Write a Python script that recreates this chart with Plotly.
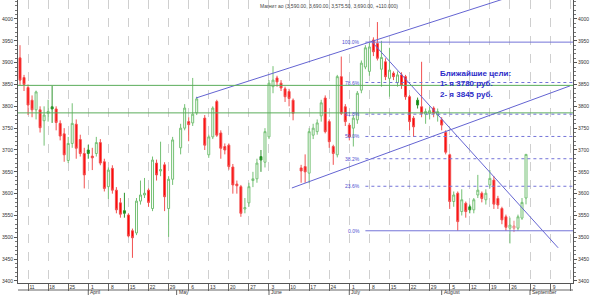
import numpy as np
import plotly.graph_objects as go

# ---------------- data ----------------
TICKER = "Магнит ао"
FIRST_DAY, LAST_DAY = "2019-03-07", "2019-08-30"
HOLIDAYS = ["2019-05-01", "2019-05-09", "2019-06-12"]

OPEN = [3911, 3866, 3843, 3814, 3792, 3792, 3767, 3784, 3799, 3794, 3761, 3737, 3676, 3715, 3759, 3724,
        3692, 3700, 3686, 3692, 3717, 3673, 3616, 3658, 3608, 3579, 3561, 3551, 3515, 3510, 3583, 3597,
        3608, 3566, 3670, 3652, 3666, 3566, 3633, 3705, 3750, 3765, 3762, 3785, 3773, 3689, 3730, 3811,
        3739, 3708, 3711, 3661, 3622, 3616, 3565, 3579, 3630, 3634, 3685, 3672, 3730, 3845, 3865, 3853,
        3840, 3834, 3814, 3659, 3662, 3647, 3734, 3742, 3778, 3819, 3765, 3708, 3689, 3868, 3799, 3757,
        3750, 3769, 3837, 3890, 3880, 3952, 3944, 3885, 3902, 3864, 3876, 3854, 3872, 3868, 3822, 3773,
        3814, 3799, 3782, 3784, 3796, 3780, 3769, 3740, 3689, 3582, 3601, 3559, 3578, 3570, 3563, 3597,
        3601, 3586, 3620, 3631, 3589, 3566, 3547, 3521, 3521, 3521, 3544, 3590]
HIGH = [3940, 3872, 3850, 3825, 3836, 3800, 3800, 3815, 3847, 3800, 3768, 3750, 3730, 3807, 3770, 3735,
        3705, 3712, 3705, 3730, 3725, 3680, 3660, 3665, 3615, 3590, 3602, 3555, 3520, 3590, 3630, 3636,
        3612, 3685, 3678, 3719, 3672, 3640, 3730, 3760, 3805, 3775, 3865, 3822, 3780, 3735, 3800, 3815,
        3745, 3715, 3715, 3668, 3630, 3620, 3590, 3625, 3650, 3680, 3700, 3750, 3860, 3892, 3870, 3860,
        3845, 3840, 3818, 3666, 3690, 3750, 3760, 3770, 3815, 3825, 3770, 3712, 3872, 3914, 3805, 3762,
        3780, 3835, 3905, 3940, 3945, 3958, 3993, 3950, 3910, 3934, 3880, 3880, 3878, 3872, 3826, 3778,
        3820, 3902, 3795, 3800, 3800, 3795, 3775, 3745, 3692, 3605, 3605, 3610, 3582, 3575, 3590, 3643,
        3605, 3610, 3654, 3640, 3595, 3570, 3552, 3545, 3538, 3552, 3590, 3690]
LOW = [3849, 3835, 3780, 3775, 3770, 3740, 3710, 3765, 3762, 3745, 3722, 3673, 3670, 3705, 3680, 3685,
       3612, 3680, 3654, 3685, 3665, 3605, 3588, 3600, 3555, 3545, 3545, 3500, 3453, 3505, 3575, 3590,
       3570, 3560, 3630, 3640, 3560, 3501, 3620, 3690, 3745, 3720, 3755, 3780, 3700, 3682, 3725, 3730,
       3680, 3690, 3655, 3600, 3600, 3547, 3555, 3570, 3615, 3625, 3650, 3660, 3725, 3830, 3845, 3835,
       3810, 3800, 3768, 3625, 3625, 3624, 3725, 3735, 3765, 3738, 3705, 3666, 3683, 3780, 3755, 3722,
       3708, 3760, 3830, 3885, 3870, 3915, 3905, 3845, 3860, 3822, 3860, 3845, 3840, 3815, 3745, 3730,
       3795, 3775, 3760, 3770, 3775, 3765, 3745, 3690, 3565, 3570, 3515, 3550, 3545, 3555, 3555, 3590,
       3580, 3575, 3612, 3565, 3565, 3530, 3515, 3486, 3512, 3515, 3540, 3575.5]
CLOSE = [3860, 3850, 3803, 3792, 3833, 3751, 3780, 3788, 3794, 3763, 3732, 3689, 3715, 3761, 3704, 3692,
         3643, 3692, 3682, 3717, 3670, 3612, 3654, 3608, 3563, 3553, 3555, 3503, 3499, 3583, 3597, 3601,
         3580, 3677, 3643, 3655, 3593, 3633, 3723, 3750, 3796, 3758, 3782, 3817, 3711, 3730, 3796, 3734,
         3704, 3700, 3662, 3620, 3618, 3555, 3568, 3616, 3634, 3670, 3677, 3742, 3853, 3860, 3856, 3842,
         3822, 3818, 3784, 3652, 3650, 3742, 3750, 3762, 3808, 3742, 3719, 3692, 3868, 3784, 3765, 3730,
         3773, 3830, 3899, 3934, 3936, 3925, 3910, 3912, 3868, 3883, 3868, 3872, 3849, 3822, 3765, 3753,
         3803, 3784, 3788, 3790, 3784, 3788, 3757, 3695, 3582, 3597, 3536, 3586, 3559, 3563, 3586, 3608,
         3589, 3601, 3635, 3576, 3574, 3540, 3523, 3528, 3526, 3547, 3580, 3690]

WEEK_TICK_LABELS = ["11", "18", "25", "1", "8", "15", "22", "29", "6", "13", "20", "27", "3", "10",
                    "17", "24", "1", "8", "15", "22", "29", "5", "12", "19", "26", "2", "9", ""]
FIRST_MONDAY = "2019-03-11"
MONTH_NAMES = ["April", "May", "June", "July", "August", "September"]
MONTH_STARTS = ["2019-04-01", "2019-05-01", "2019-06-03", "2019-07-01", "2019-08-01", "2019-09-02"]

TARGET_LEVELS = [3785, 3848]
FIB_LOW, FIB_HIGH = 3515, 3947
FIB_RATIOS = [0.0, 0.236, 0.382, 0.5, 0.618, 0.786, 1.0]
FIB_START_SLOT = 84
# trend lines: (slot, price) endpoints
TREND_UPPER = ([41.8, 125.2], [3819, 4066])
TREND_LOWER = ([65.7, 135.0], [3613, 3847])
TREND_DOWN = ([85.4, 132.0], [3950, 3476])

NOTE_LINES = ["Ближайшие цели:", "1- я 3780 руб.", "2- я 3845 руб."]

X_RANGE = [-2.5, 135.7]
Y_RANGE = [3395.4, 4043.5]
FONT = "Liberation Sans, Arial, sans-serif"

# ---------------- derived ----------------
days = np.arange(np.datetime64(FIRST_DAY), np.datetime64(LAST_DAY) + 1)
days = days[np.is_busday(days, holidays=HOLIDAYS)]
slots = np.busday_count(np.datetime64(FIRST_MONDAY), days)
O, H, L, C = map(np.array, (OPEN, HIGH, LOW, CLOSE))
prev = np.concatenate([[C[0] + 1], C[:-1]])

groups = {
    "up": (C >= O) & (C >= prev),
    "down": (C < O) & (C < prev),
    "downfilled_green": (C < O) & (C >= prev),
    "up_red": (C >= O) & (C < prev),
}
styles = {
    "up": dict(line="#74c074", fill="#ffffff"),
    "down": dict(line="#f25050", fill="#ff0000"),
    "downfilled_green": dict(line="#2f942f", fill="#008c00"),
    "up_red": dict(line="#f08080", fill="#ffffff"),
}

fig = go.Figure()
for name, mask in groups.items():
    if not mask.any():
        continue
    st = styles[name]
    side = dict(line=dict(color=st["line"], width=1), fillcolor=st["fill"])
    fig.add_trace(go.Candlestick(
        x=slots[mask], open=O[mask], high=H[mask], low=L[mask], close=C[mask],
        increasing=side, decreasing=side, whiskerwidth=0, showlegend=False,
        hoverinfo="skip"))

blue = "#6464d2"
for xs, ys in (TREND_UPPER, TREND_LOWER, TREND_DOWN):
    fig.add_trace(go.Scatter(x=xs, y=ys, mode="lines", line=dict(color=blue, width=1),
                             showlegend=False, hoverinfo="skip"))
# invisible trace for the right axis
fig.add_trace(go.Scatter(x=[slots[0]], y=[C[0]], yaxis="y2", mode="markers",
                         marker=dict(opacity=0), showlegend=False, hoverinfo="skip"))

shapes = []
for lv in TARGET_LEVELS:
    shapes.append(dict(type="line", xref="paper", x0=0, x1=1, yref="y", y0=lv, y1=lv,
                       line=dict(color="#5aac5a", width=1)))
annotations = []
for r in FIB_RATIOS:
    lv = FIB_LOW + r * (FIB_HIGH - FIB_LOW)
    solid = r in (0.0, 1.0)
    shapes.append(dict(type="line", xref="x", x0=FIB_START_SLOT, x1=X_RANGE[1], yref="y", y0=lv, y1=lv,
                       line=dict(color="#7474d8", width=1, dash="solid" if solid else "dot")))
    annotations.append(dict(x=FIB_START_SLOT - 0.8, y=lv, xref="x", yref="y", text=f"{r*100:.1f}%",
                            showarrow=False, xanchor="right", yanchor="middle",
                            font=dict(size=5, color="#5050d0", family=FONT)))

# date row box
plot_h = 295 - 12
row = 7 / plot_h
shapes.append(dict(type="line", xref="paper", yref="paper", x0=0, x1=1, y0=-row, y1=-row,
                   line=dict(color="#666666", width=1)))
month_slots = np.busday_count(np.datetime64(FIRST_MONDAY), np.array(MONTH_STARTS, dtype="datetime64[D]"))
for name, s in zip(MONTH_NAMES, month_slots):
    shapes.append(dict(type="line", xref="x", yref="paper", x0=s, x1=s, y0=-row, y1=-row - 5 / plot_h,
                       line=dict(color="#666666", width=1)))
    annotations.append(dict(x=s, y=-row, xref="x", yref="paper", text=name, showarrow=False,
                            xanchor="left", yanchor="top", xshift=0, yshift=3,
                            font=dict(size=5, color="#333333", family=FONT)))

last_change = C[-1] - C[-2]
title_text = (f"{TICKER} ({O[-1]:,.2f}, {H[-1]:,.2f}, {L[-1]:,.2f}, {C[-1]:,.2f}, "
              f"{last_change:+.3f})")
annotations.append(dict(x=(329 - 18) / 555, y=1, xref="paper", yref="paper", text=title_text,
                        showarrow=False, xanchor="center", yanchor="top", yshift=-1,
                        font=dict(size=5, color="#444444", family=FONT)))
annotations.append(dict(x=102.0, y=3850, xref="x", yref="y",
                        text="<br>".join(f"<b>{t}</b>" for t in NOTE_LINES),
                        showarrow=False, xanchor="left", yanchor="middle", align="left",
                        font=dict(size=8, color="#2c2cc8", family=FONT)))

week_ticks = np.arange(len(WEEK_TICK_LABELS)) * 5

yax = dict(range=Y_RANGE, dtick=50, tick0=0, ticks="outside", ticklen=3, tickcolor="#555555",
           showgrid=False, showline=True, linecolor="#555555", linewidth=1, zeroline=False,
           tickfont=dict(size=5, color="#333333", family=FONT),
           minor=dict(dtick=10, ticks="outside", ticklen=2, tickcolor="#777777"))

fig.update_layout(
    width=590, height=295, margin=dict(l=18, r=17, t=0, b=12),
    paper_bgcolor="white", plot_bgcolor="white", showlegend=False,
    xaxis=dict(range=X_RANGE, tickmode="array", tickvals=week_ticks, ticktext=WEEK_TICK_LABELS,
               ticks="outside", ticklen=7, tickcolor="#666666", showgrid=True, gridcolor="#cfcfcf",
               griddash="dash", gridwidth=1, showline=True, linecolor="#555555", zeroline=False,
               rangeslider=dict(visible=False), ticklabelstandoff=-8, ticklabelshift=4,
               tickfont=dict(size=5, color="#333333", family=FONT)),
    yaxis=dict(side="left", **yax),
    yaxis2=dict(side="right", overlaying="y", **yax),
    shapes=shapes, annotations=annotations,
)

fig.write_html("out.html")
